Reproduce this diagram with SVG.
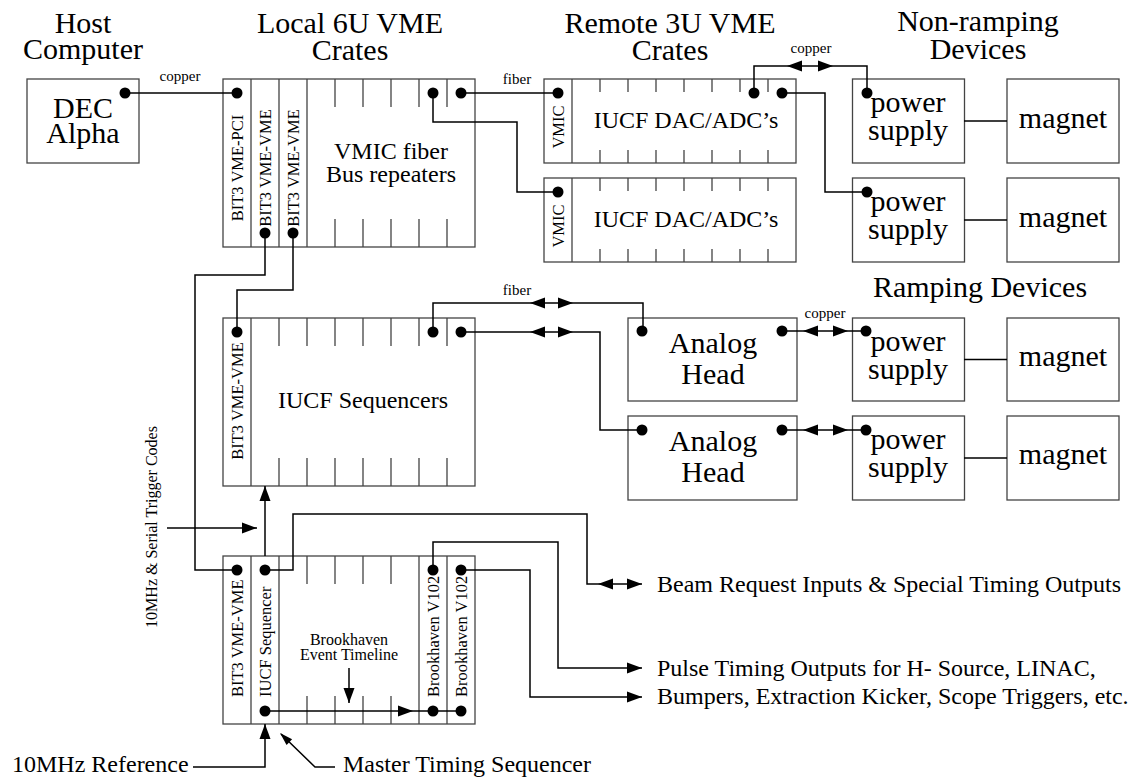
<svg xmlns="http://www.w3.org/2000/svg" xmlns:xlink="http://www.w3.org/1999/xlink" width="1137" height="778" viewBox="0 0 1137 778">
<style>
.box{fill:#fff;stroke:#444;stroke-width:1.3}
.tick{stroke:#444;stroke-width:1.3;fill:none}
.wire{fill:none;stroke:#000;stroke-width:1.5}
.t{font-family:"Liberation Serif","Times New Roman",serif;fill:#000}
.hdr{font-size:30px;text-anchor:middle}
.big{font-size:30px;text-anchor:middle}
.mid{font-size:24px;text-anchor:middle}
.slot{font-size:16.5px}
.lbl{font-size:15px;text-anchor:middle}
.tl{font-size:16px;text-anchor:middle}
.out{font-size:24px}
</style>
<defs>
<path id="ah" d="M0,0 L-15,-5.5 L-15,5.5 Z" fill="#000"/>
<circle id="dot" r="5.5" fill="#000"/>
</defs>
<rect width="1137" height="778" fill="#fff"/>

<g id="headers">
<text class="t hdr" x="83" y="33">Host</text>
<text class="t hdr" x="83" y="59">Computer</text>
<text class="t hdr" x="350" y="33">Local 6U VME</text>
<text class="t hdr" x="350" y="60">Crates</text>
<text class="t hdr" x="670" y="33">Remote 3U VME</text>
<text class="t hdr" x="670" y="60">Crates</text>
<text class="t hdr" x="978" y="31">Non-ramping</text>
<text class="t hdr" x="978" y="59">Devices</text>
<text class="t hdr" x="980" y="297">Ramping Devices</text>
</g>

<g id="dec-alpha">
<rect class="box" x="27" y="79" width="112" height="84"/>
<text class="t big" x="83" y="118">DEC</text>
<text class="t big" x="83" y="143">Alpha</text>
</g>

<g id="local-crate-1">
<rect class="box" x="223" y="79" width="252" height="168"/>
<path class="tick" d="M251,79 V247 M279,79 V247 M307,79 V247 M335,79 V107 M363,79 V107 M391,79 V107 M419,79 V107 M447,79 V107 M335,219 V247 M363,219 V247 M391,219 V247 M419,219 V247 M447,219 V247"/>
<text class="t slot" text-anchor="middle" transform="translate(243,168) rotate(-90)">BIT3 VME-PCI</text>
<text class="t slot" text-anchor="middle" transform="translate(271,168) rotate(-90)">BIT3 VME-VME</text>
<text class="t slot" text-anchor="middle" transform="translate(299,168) rotate(-90)">BIT3 VME-VME</text>
<text class="t mid" x="391" y="159">VMIC fiber</text>
<text class="t mid" x="391" y="182">Bus repeaters</text>
</g>

<g id="remote-crate-1">
<rect class="box" x="544" y="79" width="252" height="84"/>
<path class="tick" d="M572,79 V163 M600,79 V92 M628,79 V92 M656,79 V92 M684,79 V92 M712,79 V92 M740,79 V92 M768,79 V92 M600,150 V163 M628,150 V163 M656,150 V163 M684,150 V163 M712,150 V163 M740,150 V163 M768,150 V163"/>
<text class="t slot" text-anchor="middle" transform="translate(564,127) rotate(-90)">VMIC</text>
<text class="t mid" x="686" y="128">IUCF DAC/ADC’s</text>
</g>

<g id="remote-crate-2">
<rect class="box" x="544" y="178" width="252" height="84"/>
<path class="tick" d="M572,178 V262 M600,178 V191 M628,178 V191 M656,178 V191 M684,178 V191 M712,178 V191 M740,178 V191 M768,178 V191 M600,249 V262 M628,249 V262 M656,249 V262 M684,249 V262 M712,249 V262 M740,249 V262 M768,249 V262"/>
<text class="t slot" text-anchor="middle" transform="translate(564,226) rotate(-90)">VMIC</text>
<text class="t mid" x="686" y="227">IUCF DAC/ADC’s</text>
</g>

<g id="ps-1">
<rect class="box" x="852.5" y="79" width="112" height="84"/>
<text class="t big" x="908" y="112">power</text>
<text class="t big" x="908" y="140">supply</text>
</g>
<g id="magnet-1">
<rect class="box" x="1007" y="79" width="112" height="84"/>
<text class="t big" x="1063" y="128">magnet</text>
</g>
<g id="ps-2">
<rect class="box" x="852.5" y="178" width="112" height="84"/>
<text class="t big" x="908" y="211">power</text>
<text class="t big" x="908" y="239">supply</text>
</g>
<g id="magnet-2">
<rect class="box" x="1007" y="178" width="112" height="84"/>
<text class="t big" x="1063" y="227">magnet</text>
</g>

<g id="local-crate-2">
<rect class="box" x="223" y="318" width="252" height="168"/>
<path class="tick" d="M251,318 V486 M279,318 V346 M307,318 V346 M335,318 V346 M363,318 V346 M391,318 V346 M419,318 V346 M447,318 V346 M279,458 V486 M307,458 V486 M335,458 V486 M363,458 V486 M391,458 V486 M419,458 V486 M447,458 V486"/>
<text class="t slot" text-anchor="middle" transform="translate(243,401) rotate(-90)">BIT3 VME-VME</text>
<text class="t mid" x="363" y="408">IUCF Sequencers</text>
</g>

<g id="analog-head-1">
<rect class="box" x="628" y="318" width="169" height="83"/>
<text class="t big" x="713" y="353">Analog</text>
<text class="t big" x="713" y="384">Head</text>
</g>
<g id="analog-head-2">
<rect class="box" x="628" y="416" width="169" height="84"/>
<text class="t big" x="713" y="451">Analog</text>
<text class="t big" x="713" y="482">Head</text>
</g>
<g id="ps-3">
<rect class="box" x="852.5" y="318" width="112" height="83"/>
<text class="t big" x="908" y="351">power</text>
<text class="t big" x="908" y="379">supply</text>
</g>
<g id="magnet-3">
<rect class="box" x="1007" y="318" width="112" height="83"/>
<text class="t big" x="1063" y="366">magnet</text>
</g>
<g id="ps-4">
<rect class="box" x="852.5" y="416" width="112" height="84"/>
<text class="t big" x="908" y="449">power</text>
<text class="t big" x="908" y="477">supply</text>
</g>
<g id="magnet-4">
<rect class="box" x="1007" y="416" width="112" height="84"/>
<text class="t big" x="1063" y="464">magnet</text>
</g>

<g id="master-crate">
<rect class="box" x="223" y="556" width="252" height="168"/>
<path class="tick" d="M251,556 V724 M279,556 V724 M419,556 V724 M447,556 V724 M307,556 V584 M335,556 V584 M363,556 V584 M391,556 V584 M307,696 V724 M335,696 V724 M363,696 V724 M391,696 V724"/>
<text class="t slot" transform="translate(243,697) rotate(-90)">BIT3 VME-VME</text>
<text class="t slot" transform="translate(271,697) rotate(-90)">IUCF Sequencer</text>
<text class="t slot" transform="translate(439,697) rotate(-90)">Brookhaven V102</text>
<text class="t slot" transform="translate(467,697) rotate(-90)">Brookhaven V102</text>
<text class="t tl" x="349" y="645">Brookhaven</text>
<text class="t tl" x="349" y="660">Event Timeline</text>
</g>

<g id="labels">
<text class="t slot" text-anchor="middle" transform="translate(157,527) rotate(-90)" style="font-size:16px">10MHz &amp; Serial Trigger Codes</text>
<text class="t out" x="657" y="592">Beam Request Inputs &amp; Special Timing Outputs</text>
<text class="t out" x="657" y="676">Pulse Timing Outputs for H- Source, LINAC,</text>
<text class="t out" x="657" y="704">Bumpers, Extraction Kicker, Scope Triggers, etc.</text>
<text class="t out" x="12" y="772">10MHz Reference</text>
<text class="t out" x="343" y="772">Master Timing Sequencer</text>
</g>

<g id="connectors">
<path class="wire" d="M125,93 H237"/>
<text class="t lbl" x="180" y="81">copper</text>
<path class="wire" d="M461,93 H558"/>
<text class="t lbl" x="517" y="84">fiber</text>
<path class="wire" d="M433,93 V122 H517 V192 H558"/>
<path class="wire" d="M754,93 V66 H867 V93"/>
<use xlink:href="#ah" transform="translate(787,66) rotate(180)"/>
<use xlink:href="#ah" transform="translate(833,66)"/>
<text class="t lbl" x="811" y="53">copper</text>
<path class="wire" d="M782,93 H825 V192 H867"/>
<path class="wire" d="M964,121 H1007 M964,220 H1007"/>
<path class="wire" d="M265,233 V275 H195 V570 H237"/>
<path class="wire" d="M293,233 V290 H237 V332"/>
<path class="wire" d="M433,332 V303 H643 V331"/>
<use xlink:href="#ah" transform="translate(530,303) rotate(180)"/>
<use xlink:href="#ah" transform="translate(573,303)"/>
<text class="t lbl" x="517" y="295">fiber</text>
<path class="wire" d="M461,332 H600 V430 H642"/>
<use xlink:href="#ah" transform="translate(530,332) rotate(180)"/>
<use xlink:href="#ah" transform="translate(573,332)"/>
<path class="wire" d="M782,331 H866"/>
<use xlink:href="#ah" transform="translate(803,331) rotate(180)"/>
<use xlink:href="#ah" transform="translate(848,331)"/>
<text class="t lbl" x="825" y="318">copper</text>
<path class="wire" d="M782,430 H866"/>
<use xlink:href="#ah" transform="translate(803,430) rotate(180)"/>
<use xlink:href="#ah" transform="translate(848,430)"/>
<path class="wire" d="M964,359.5 H1007 M964,458 H1007"/>
<path class="wire" d="M167,528 H257"/>
<use xlink:href="#ah" transform="translate(257,528)"/>
<path class="wire" d="M265,556 V486"/>
<use xlink:href="#ah" transform="translate(265,486) rotate(-90)"/>
<path class="wire" d="M265,570 H293 V514 H587 V584 H642"/>
<use xlink:href="#ah" transform="translate(598,584) rotate(180)"/>
<use xlink:href="#ah" transform="translate(642,584)"/>
<path class="wire" d="M433,570 V542 H558 V668 H642"/>
<use xlink:href="#ah" transform="translate(642,668)"/>
<path class="wire" d="M461,570 H530 V697 H642"/>
<use xlink:href="#ah" transform="translate(642,697)"/>
<path class="wire" d="M265,711 H461"/>
<use xlink:href="#ah" transform="translate(413,711)"/>
<path class="wire" d="M349,668 V703"/>
<use xlink:href="#ah" transform="translate(349,703) rotate(90)"/>
<path class="wire" d="M193,767 H265 V724"/>
<use xlink:href="#ah" transform="translate(265,724) rotate(-90)"/>
<path class="wire" d="M335,767 H315 L281,734"/>
<path d="M0,0 L-13,-4 L-13,4 Z" fill="#000" transform="translate(280,733) rotate(-136)"/>
<g id="dots">
<use xlink:href="#dot" x="125" y="93"/>
<use xlink:href="#dot" x="237" y="93"/>
<use xlink:href="#dot" x="265" y="233"/>
<use xlink:href="#dot" x="293" y="233"/>
<use xlink:href="#dot" x="433" y="93"/>
<use xlink:href="#dot" x="461" y="93"/>
<use xlink:href="#dot" x="558" y="93"/>
<use xlink:href="#dot" x="754" y="93"/>
<use xlink:href="#dot" x="782" y="93"/>
<use xlink:href="#dot" x="558" y="192"/>
<use xlink:href="#dot" x="867" y="93"/>
<use xlink:href="#dot" x="867" y="192"/>
<use xlink:href="#dot" x="237" y="332"/>
<use xlink:href="#dot" x="433" y="332"/>
<use xlink:href="#dot" x="461" y="332"/>
<use xlink:href="#dot" x="642" y="331"/>
<use xlink:href="#dot" x="782" y="331"/>
<use xlink:href="#dot" x="642" y="430"/>
<use xlink:href="#dot" x="782" y="430"/>
<use xlink:href="#dot" x="866" y="331"/>
<use xlink:href="#dot" x="866" y="430"/>
<use xlink:href="#dot" x="237" y="570"/>
<use xlink:href="#dot" x="265" y="570"/>
<use xlink:href="#dot" x="433" y="570"/>
<use xlink:href="#dot" x="461" y="570"/>
<use xlink:href="#dot" x="265" y="711"/>
<use xlink:href="#dot" x="433" y="711"/>
<use xlink:href="#dot" x="461" y="711"/>
</g>
</g>
</svg>
